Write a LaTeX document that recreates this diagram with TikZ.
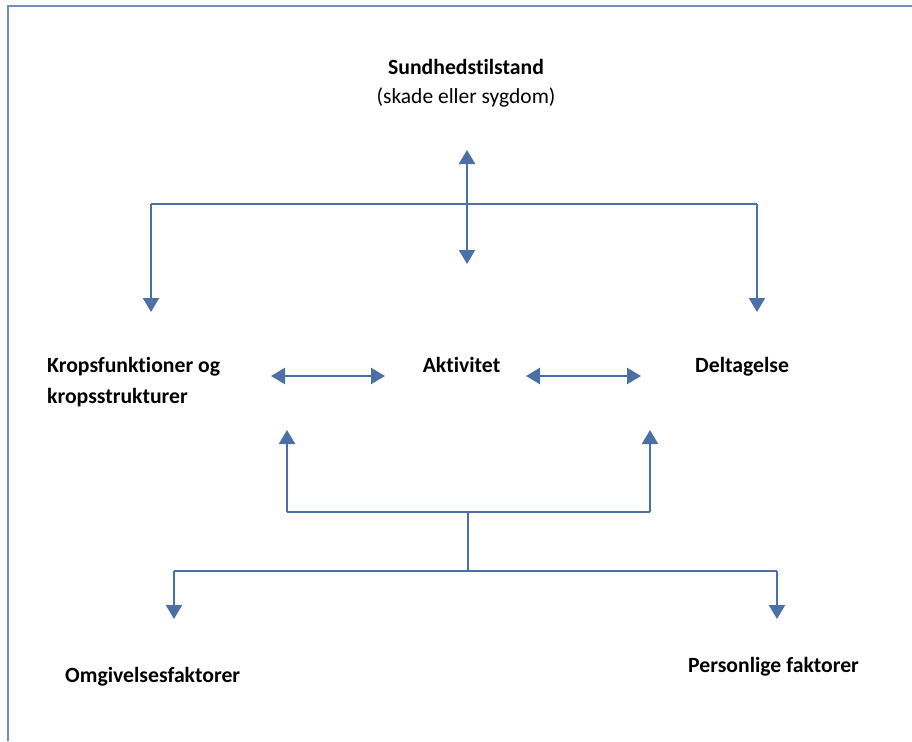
\documentclass[tikz,border=0pt]{standalone}
\usepackage{fontspec}
\setmainfont{Carlito}[Ligatures={NoCommon}]
\usetikzlibrary{arrows.meta}
\definecolor{linec}{RGB}{74,112,166}
\definecolor{framec}{RGB}{110,142,190}
\tikzset{
  conn/.style={draw=linec, line width=2.3pt},
  tip/.style={-{Triangle[width=16pt,length=14pt]}, conn},
  dtip/.style={{Triangle[width=16pt,length=14pt]}-{Triangle[width=16pt,length=14pt]}, conn},
  lbl/.style={font=\bfseries\fontsize{21.7}{25}\selectfont, inner sep=0pt, anchor=base},
  lbln/.style={font=\fontsize{21.5}{25}\selectfont, inner sep=0pt, anchor=base}
}
\begin{document}
\begin{tikzpicture}[x=1pt,y=-1pt]
\useasboundingbox (0,0) rectangle (912,741);
\fill[white] (0,0) rectangle (912,741);
\draw[framec, line width=2pt] (7.5,741) -- (7.5,6) -- (912,6);
% texts
\node[lbl] (sund) at (466,75) {Sundhedstilstand};
\node[lbln] (sub) at (466,104) {(skade eller sygdom)};
\node[lbl, anchor=base west] (krop1) at (47,372) {Kropsfunktioner og};
\node[lbl, anchor=base west] (krop2) at (47,403) {kropsstrukturer};
\node[lbl] (akt) at (461.5,372) {Aktivitet};
\node[lbl, anchor=base west] (del) at (695,372) {Deltagelse};
\node[lbl, anchor=base west] (omg) at (65,682) {Omgivelsesfaktorer};
\node[lbl, anchor=base west] (per) at (688,672) {Personlige faktorer};
% coordinates
\coordinate (t1) at (467,150);
\coordinate (t2) at (467,264);
\coordinate (hl) at (151,204);
\coordinate (hr) at (757,204);
\coordinate (dl) at (151,312);
\coordinate (dr) at (757,312);
\coordinate (a1) at (271,376);
\coordinate (a2) at (385,376);
\coordinate (b1) at (526,376);
\coordinate (b2) at (641,376);
\coordinate (ul) at (287,430);
\coordinate (ur) at (650,430);
\coordinate (ubl) at (287,512);
\coordinate (ubr) at (650,512);
\coordinate (mc) at (468,512);
\coordinate (mb) at (468,571);
\coordinate (ll) at (174,571);
\coordinate (lr) at (777,571);
\coordinate (el) at (174,619);
\coordinate (er) at (777,619);
% connectors
\draw[dtip] (t1) -- (t2);
\draw[conn] (hl) -- (hr);
\draw[tip] (hl) -- (dl);
\draw[tip] (hr) -- (dr);
\draw[dtip] (a1) -- (a2);
\draw[dtip] (b1) -- (b2);
\draw[tip] (ubl) -- (ul);
\draw[tip] (ubr) -- (ur);
\draw[conn] (ubl) -- (ubr);
\draw[conn] (mc) -- (mb);
\draw[conn] (ll) -- (lr);
\draw[tip] (ll) -- (el);
\draw[tip] (lr) -- (er);
\end{tikzpicture}
\end{document}
